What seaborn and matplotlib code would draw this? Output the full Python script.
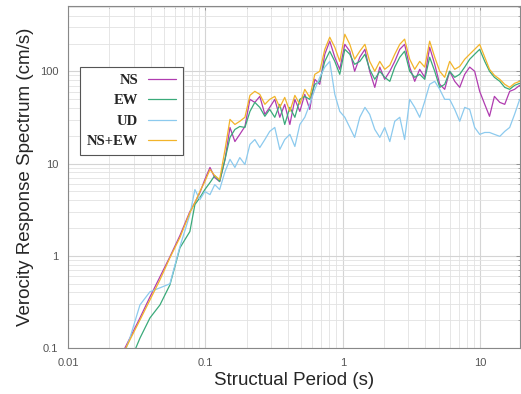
import numpy as np
import pandas as pd
import matplotlib
matplotlib.use("Agg")
import matplotlib.pyplot as plt
import seaborn as sns
from matplotlib.ticker import FixedLocator, LogLocator, NullFormatter, FixedFormatter

# Structural period (s)
period = [0.0239, 0.0282, 0.0334, 0.0395, 0.0467, 0.0552, 0.0653, 0.0771, 0.0839, 0.0912,
          0.0991, 0.108, 0.117, 0.127, 0.139, 0.151, 0.164, 0.178, 0.194, 0.211,
          0.229, 0.249, 0.271, 0.294, 0.320, 0.348, 0.378, 0.412, 0.448, 0.487,
          0.529, 0.575, 0.626, 0.680, 0.740, 0.804, 0.875, 0.951, 1.035, 1.125,
          1.22, 1.33, 1.45, 1.57, 1.71, 1.86, 2.02, 2.20, 2.39, 2.60,
          2.82, 3.07, 3.34, 3.63, 3.95, 4.29, 4.67, 5.08, 5.52, 6.00,
          6.53, 7.10, 7.72, 8.39, 9.12, 9.92, 10.8, 11.7, 12.7, 13.9,
          15.1, 16.4, 17.8, 19.4]

ns = [0.078, 0.128, 0.212, 0.358, 0.591, 0.976, 1.66, 3.01, 3.77, 4.84,
      6.70, 9.07, 7.04, 6.37, 11.1, 24.6, 17.3, 20.7, 25.2, 49.6,
      46.0, 53.4, 34.1, 40.6, 49.6, 31.7, 43.8, 26.5, 49.6, 36.7,
      56.2, 38.6, 81.8, 72.2, 153, 212, 142, 105, 196, 165,
      100, 142, 173, 100, 66.9, 111, 81.8, 100, 128, 173,
      196, 111, 77.8, 105, 86.0, 182, 119, 72.2, 63.7, 100,
      77.8, 66.9, 92.7, 111, 100, 60.6, 43.8, 32.5, 53.4, 46.0,
      43.8, 60.6, 63.7, 70.4]

ew = [0.040, 0.070, 0.128, 0.212, 0.293, 0.484, 1.22, 1.83, 3.59, 4.27,
      5.22, 6.21, 7.40, 6.37, 11.1, 19.2, 23.4, 25.2, 24.6, 36.7,
      46.0, 40.6, 32.5, 38.6, 31.7, 43.8, 26.5, 40.6, 31.7, 49.6,
      53.4, 49.6, 72.2, 77.8, 128, 165, 128, 92.7, 173, 153,
      119, 128, 153, 105, 81.8, 100, 86.0, 77.8, 111, 142,
      165, 100, 86.0, 92.7, 81.8, 142, 100, 66.9, 72.2, 100,
      86.0, 92.7, 111, 135, 153, 173, 128, 100, 86.0, 77.8,
      66.9, 63.7, 70.4, 74.0]

ud = [0.065, 0.128, 0.293, 0.407, 0.449, 0.497, 1.26, 2.79, 5.22, 4.06,
      4.97, 4.60, 5.91, 5.22, 8.19, 11.1, 9.07, 11.6, 9.76, 16.1,
      18.2, 14.9, 18.2, 22.3, 24.6, 14.2, 18.2, 20.7, 15.3, 26.5,
      31.7, 43.8, 63.7, 86.0, 111, 128, 56.2, 36.7, 31.7, 24.6,
      19.2, 31.7, 40.6, 34.1, 23.4, 19.2, 24.6, 17.3, 28.7, 31.7,
      18.2, 49.6, 40.6, 31.7, 47.2, 72.2, 77.8, 63.7, 49.6, 49.6,
      38.6, 28.7, 40.6, 38.6, 24.6, 20.7, 21.7, 21.7, 20.7, 19.7,
      22.3, 24.6, 34.1, 49.6]

nsew = [0.074, 0.122, 0.201, 0.332, 0.548, 0.952, 1.58, 2.93, 3.77, 4.97,
        6.37, 8.61, 7.40, 6.70, 14.2, 30.1, 26.5, 28.7, 31.7, 54.8,
        60.6, 56.2, 43.8, 49.6, 53.4, 40.6, 52.1, 36.7, 54.8, 43.8,
        63.7, 52.1, 92.7, 100, 173, 234, 182, 128, 252, 196,
        135, 165, 196, 128, 100, 128, 105, 116, 153, 196,
        223, 135, 105, 128, 111, 212, 142, 100, 86.0, 128,
        105, 113, 135, 153, 173, 196, 142, 105, 90.4, 81.8,
        72.2, 66.9, 74.0, 77.8]

series_names = ["NS", "EW", "UD", "NS+EW"]
colors = {"NS": "#b03cb0", "EW": "#3aaa7a", "UD": "#8ccaee", "NS+EW": "#f2b42a"}

frames = []
for name, vals in zip(series_names, [ns, ew, ud, nsew]):
    frames.append(pd.DataFrame({"period": period, "value": vals, "comp": name}))
df = pd.concat(frames, ignore_index=True)

sns.set_style("white")
plt.rcParams["font.family"] = ["Liberation Sans", "DejaVu Sans"]

fig = plt.figure(figsize=(5.21, 3.94), dpi=100)
ax = fig.add_axes([68 / 521, 46 / 394, 452 / 521, 342 / 394])

sns.lineplot(data=df, x="period", y="value", hue="comp", hue_order=series_names,
             palette=colors, estimator=None, sort=False, linewidth=0.9, ax=ax)

ax.set_xscale("log")
ax.set_yscale("log")
ax.set_xlim(0.01, 19.5)
ax.set_ylim(0.1, 510)

xticks = [0.01, 0.1, 1, 10]
xlabels = ["0.01", "0.1", "1", "10"]
yticks = [0.1, 1, 10, 100]
ylabels = ["0.1", "1", "10", "100"]
ax.xaxis.set_major_locator(FixedLocator(xticks))
ax.xaxis.set_major_formatter(FixedFormatter(xlabels))
ax.yaxis.set_major_locator(FixedLocator(yticks))
ax.yaxis.set_major_formatter(FixedFormatter(ylabels))
ax.xaxis.set_minor_locator(LogLocator(base=10, subs=np.arange(2, 10), numticks=20))
ax.yaxis.set_minor_locator(LogLocator(base=10, subs=np.arange(2, 10), numticks=20))
ax.xaxis.set_minor_formatter(NullFormatter())
ax.yaxis.set_minor_formatter(NullFormatter())

ax.grid(True, which="major", color="#d4d4d4", linewidth=0.8)
ax.grid(True, which="minor", color="#e2e2e2", linewidth=0.6)
ax.set_axisbelow(True)

ax.tick_params(axis="both", which="both", direction="in", top=True, right=True,
               labelsize=8, labelcolor="#555555", color="#888888")
ax.tick_params(which="major", length=3, width=0.6, pad=7)
ax.tick_params(which="minor", length=1.5, width=0.5)
for s in ax.spines.values():
    s.set_color("#888888")
    s.set_linewidth(0.8)

ax.set_xlabel("Structual Period (s)", fontsize=13.5, labelpad=3)
ax.set_ylabel("Verocity Response Spectrum (cm/s)", fontsize=13.5, labelpad=4)

leg = ax.legend(loc="upper left", bbox_to_anchor=(0.027, 0.822), borderaxespad=0,
                markerfirst=False, frameon=True, fancybox=False, framealpha=1,
                edgecolor="#555555", handlelength=1.9, handletextpad=0.7,
                labelspacing=0.5, borderpad=0.45,
                prop={"family": "Liberation Serif", "weight": "bold", "size": 10.5})
leg.get_frame().set_linewidth(0.8)
for col in leg._legend_handle_box.get_children():
    col.align = "right"

fig.savefig("out.png", dpi=100)
